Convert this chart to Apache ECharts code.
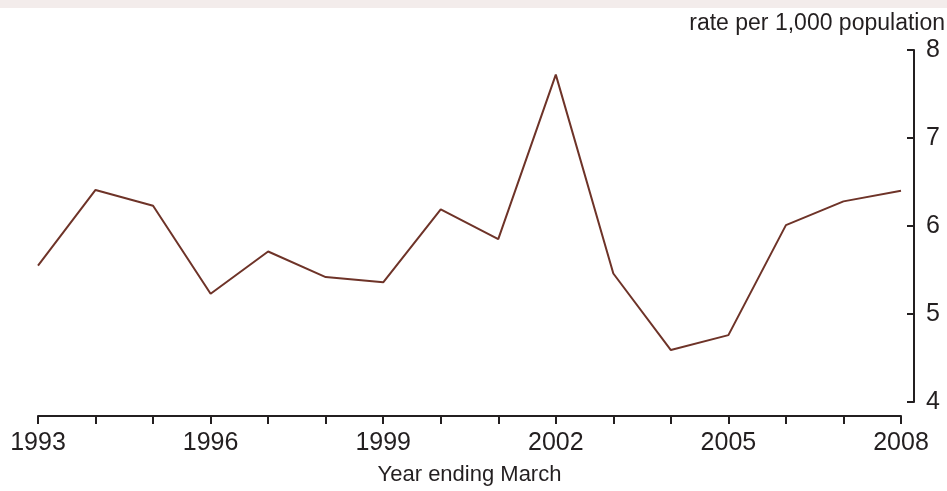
<!DOCTYPE html>
<html>
<head>
<meta charset="utf-8">
<script src="https://cdn.jsdelivr.net/npm/echarts@6/dist/echarts.min.js"></script>
<style>
  html, body { margin: 0; padding: 0; background: #fff; }
  #chart { width: 947px; height: 491px; }
</style>
</head>
<body>
<div id="chart"></div>
<script>
const years = ['1993', '1994', '1995', '1996', '1997', '1998', '1999', '2000',
  '2001', '2002', '2003', '2004', '2005', '2006', '2007', '2008']
const rates = [5.55, 6.41, 6.23, 5.23, 5.71, 5.42, 5.36, 6.19,
  5.85, 7.72, 5.46, 4.59, 4.76, 6.01, 6.28, 6.40]
const yTicks = [4, 5, 6, 7, 8]

const FONT = '"Liberation Sans", Arial, sans-serif'
const INK = '#231f20'

const chart = echarts.init(document.getElementById('chart'), null, { renderer: 'canvas' })

chart.setOption({
  backgroundColor: '#fff',
  animation: false,
  graphic: [
    { type: 'rect', left: 0, top: 0, shape: { width: 947, height: 8 }, style: { fill: '#f3eceb' } },
    {
      type: 'text', right: 2, top: 12,
      style: { text: 'rate per 1,000 population', font: '23px ' + FONT, fill: INK }
    }
  ],
  grid: { left: 38, right: 46, top: 50, bottom: 87 },
  xAxis: {
    type: 'category',
    data: years,
    boundaryGap: false,
    offset: 14,
    name: 'Year ending March',
    nameLocation: 'middle',
    nameGap: 48,
    nameTextStyle: { color: INK, fontSize: 22, fontFamily: FONT },
    axisLine: { lineStyle: { color: INK, width: 2 } },
    axisTick: { length: 8, interval: 0, lineStyle: { color: INK, width: 2 } },
    axisLabel: { interval: 2, color: INK, fontSize: 25, fontFamily: FONT, margin: 15 },
    splitLine: { show: false }
  },
  yAxis: {
    type: 'value',
    position: 'right',
    offset: 13,
    min: yTicks[0],
    max: yTicks[yTicks.length - 1],
    interval: 1,
    axisLine: { show: true, lineStyle: { color: INK, width: 2 } },
    axisTick: { show: true, inside: true, length: 7, lineStyle: { color: INK, width: 2 } },
    axisLabel: { color: INK, fontSize: 25, fontFamily: FONT, margin: 12 },
    splitLine: { show: false }
  },
  series: [{
    type: 'line',
    data: rates,
    symbol: 'none',
    lineStyle: { color: '#6e3328', width: 2 }
  }]
})
</script>
</body>
</html>
